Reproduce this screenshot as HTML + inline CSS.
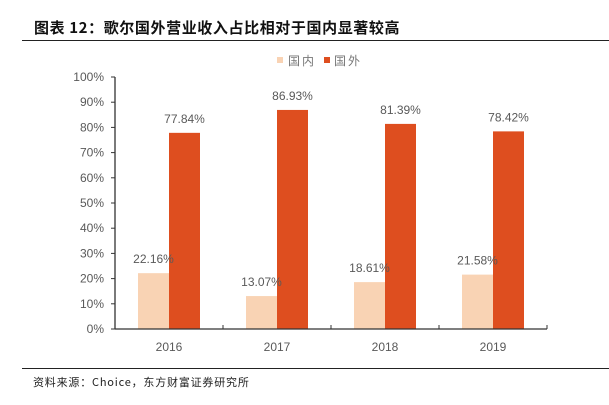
<!DOCTYPE html>
<html><head><meta charset="utf-8"><style>
body{margin:0;background:#fff;font-family:"Liberation Sans","Noto Sans CJK SC",sans-serif;}
svg text{font-family:"Liberation Sans","Noto Sans CJK SC",sans-serif;}
</style></head><body>
<svg width="609" height="400" xmlns="http://www.w3.org/2000/svg" id="chart">
<text x="34" y="33" font-size="15" font-weight="bold" fill="#111" letter-spacing="0.6" style="font-family:'Noto Sans CJK SC',sans-serif">图表 12：歌尔国外营业收入占比相对于国内显著较高</text>
<line x1="22" y1="40.5" x2="609" y2="40.5" stroke="#222" stroke-width="1"/>
<g>
<rect x="277" y="57" width="6" height="6" fill="#f9d3b4"/>
<text x="288" y="65" font-size="12" fill="#777" letter-spacing="2">国内</text>
<rect x="324" y="57" width="6" height="6" fill="#de4e1f"/>
<text x="334" y="65" font-size="12" fill="#777" letter-spacing="2">国外</text>
</g>
<g id="plot"></g>
<line x1="22" y1="368.5" x2="609" y2="368.5" stroke="#222" stroke-width="1"/>
<text x="33" y="386" font-size="11" fill="#222" letter-spacing="0.8" style="font-family:'Noto Sans CJK SC',sans-serif">资料来源：Choice，东方财富证券研究所</text>
</svg>
<script>
const categories=["2016","2017","2018","2019"];
const domestic=[22.16,13.07,18.61,21.58];
const foreign=[77.84,86.93,81.39,78.42];
const yTicks=[0,10,20,30,40,50,60,70,80,90,100];
const NS="http://www.w3.org/2000/svg";
const g=document.getElementById('plot');
const x0=115,x1=547,y0=329,y1=77;
const bw=(x1-x0)/categories.length;
const y=v=>y0-(v/100)*(y0-y1);
function mk(t,a,txt){const e=document.createElementNS(NS,t);for(const k in a)e.setAttribute(k,a[k]);if(txt!==undefined)e.textContent=txt;g.appendChild(e);return e;}
yTicks.forEach(v=>{
 const t=mk('text',{x:x0-11,y:y(v)+4,'font-size':12,fill:'#595959','text-anchor':'end'},v+'%');
 
 
 const tk=mk('line',{x1:x0-4,y1:y(v),x2:x0,y2:y(v),stroke:'#333','stroke-width':1});
 
 
});
categories.forEach((c,i)=>{
 const cx=x0+bw*(i+0.5);
 const r1=mk('rect',{x:cx-31,y:y(domestic[i]),width:31,height:y0-y(domestic[i]),fill:'#f9d3b4'});
 
 
 const r2=mk('rect',{x:cx,y:y(foreign[i]),width:31,height:y0-y(foreign[i]),fill:'#de4e1f'});
 
 
 const l1=mk('text',{x:cx-15.5,y:y(domestic[i])-10,'font-size':12,fill:'#595959','text-anchor':'middle'},domestic[i].toFixed(2)+'%');
 
 
 const l2=mk('text',{x:cx+15.5,y:y(foreign[i])-10,'font-size':12,fill:'#595959','text-anchor':'middle'},foreign[i].toFixed(2)+'%');
 
 
 const xl=mk('text',{x:cx,y:351,'font-size':12,fill:'#595959','text-anchor':'middle'},c);
 
 
});
const ya=mk('line',{x1:x0,y1:y1,x2:x0,y2:y0,stroke:'#333','stroke-width':1.3});


const xa=mk('line',{x1:x0,y1:y0,x2:x1,y2:y0,stroke:'#333','stroke-width':1.3});


for(let i=0;i<=categories.length;i++){
 const t=mk('line',{x1:x0+bw*i,y1:y0,x2:x0+bw*i,y2:y0-4,stroke:'#333','stroke-width':1});
 
 
}
</script>
</body></html>
